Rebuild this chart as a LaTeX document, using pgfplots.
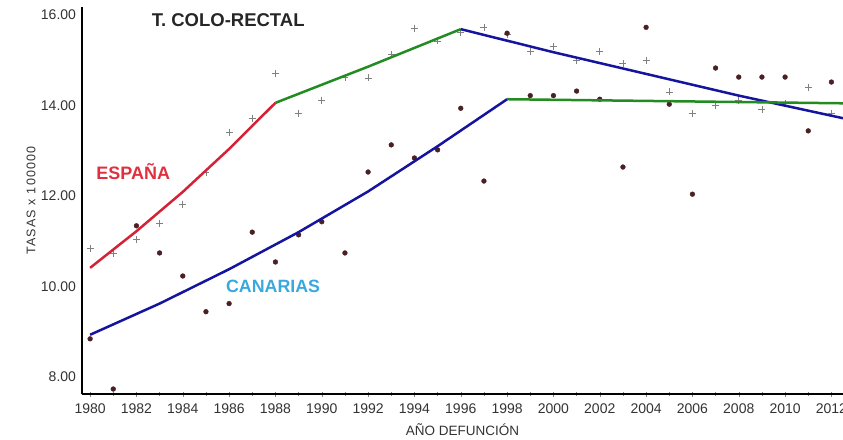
\documentclass[border=0pt]{standalone}
\usepackage{pgfplots}
\pgfplotsset{compat=1.18}
\usepackage{pgfplotstable}
\usepackage{fontspec}
\setmainfont{Liberation Sans}
\usetikzlibrary{calc}

\definecolor{espred}{HTML}{D42236}
\definecolor{espredtxt}{HTML}{E0303E}
\definecolor{fitgreen}{HTML}{228B22}
\definecolor{fitblue}{HTML}{14149E}
\definecolor{cantxt}{HTML}{3AA8DE}
\definecolor{dotcol}{HTML}{4A2024}
\definecolor{pluscol}{HTML}{808080}
\definecolor{ticktxt}{HTML}{333333}

% observed rates, Spain (+) and Canarias (dots)
\pgfplotstableread{
year espana canarias
1980 10.83 8.84
1981 10.72 7.73
1982 11.03 11.34
1983 11.40 10.74
1984 11.82 10.23
1985 12.53 9.44
1986 13.41 9.62
1987 13.72 11.20
1988 14.72 10.54
1989 13.83 11.14
1990 14.12 11.43
1991 14.63 10.74
1992 14.61 12.53
1993 15.14 13.13
1994 15.71 12.84
1995 15.43 13.02
1996 15.62 13.94
1997 15.73 12.33
1998 15.58 15.60
1999 15.20 14.22
2000 15.31 14.22
2001 15.00 14.32
2002 15.20 14.14
2003 14.94 12.64
2004 15.00 15.73
2005 14.30 14.03
2006 13.83 12.04
2007 14.01 14.83
2008 14.12 14.63
2009 13.92 14.63
2010 14.05 14.63
2011 14.41 13.44
2012 13.83 14.52
}\rates

\begin{document}
\begin{tikzpicture}
\begin{axis}[
  scale only axis, width=761pt, height=387pt,
  xmin=1979.65, xmax=2012.5, ymin=7.62, ymax=16.18,
  axis x line=bottom, axis y line=left,
  axis line style={-, line width=1.6pt, black},
  xtick={1980,1982,...,2012}, minor xtick={1981,1983,...,2011},
  ytick={8,10,...,16},
  ytick style={draw=none},
  xtick style={draw=gray, thin},
  major tick length=5pt, minor tick length=4pt, tick align=center,
  tick label style={font=\fontsize{14}{16}\selectfont, text=ticktxt,
    /pgf/number format/assume math mode=true},
  x tick label style={/pgf/number format/1000 sep={}, yshift=-4pt},
  y tick label style={/pgf/number format/.cd, fixed, fixed zerofill, precision=2},
  xlabel={AÑO DEFUNCIÓN},
  xlabel style={at={(axis description cs:0.5,0)}, anchor=center, yshift=-36pt,
    font=\fontsize{13.5}{15}\selectfont, text=ticktxt},
  ylabel={TASAS x 100000},
  ylabel style={at={(axis description cs:-0.067,0.5)}, anchor=center,
    font=\fontsize{12.5}{14}\selectfont\addfontfeature{LetterSpace=10}, text=ticktxt},
  clip mode=individual,
]
\addplot[only marks, mark=+, mark size=3.5pt, draw=pluscol, line width=0.8pt]
  table[x=year, y=espana] {\rates};
\addplot[only marks, mark=*, mark size=2.4pt, draw=dotcol, fill=dotcol]
  table[x=year, y=canarias] {\rates};

% joinpoint fits, Spain
\addplot[espred, line width=2.5pt] coordinates {
  (1980,10.41) (1982,11.22) (1984,12.09) (1986,13.04) (1988,14.06)};
\addplot[fitgreen, line width=2.5pt] coordinates {
  (1988,14.06) (1992,14.86) (1996,15.69)};
\addplot[fitblue, line width=2.5pt] coordinates {
  (1996,15.69) (2000,15.18) (2004,14.70) (2008,14.22) (2012.5,13.72)};
% joinpoint fits, Canarias
\addplot[fitblue, line width=2.5pt] coordinates {
  (1980,8.93) (1983,9.62) (1986,10.38) (1989,11.20) (1992,12.10) (1995,13.10) (1998,14.14)};
\addplot[fitgreen, line width=2.5pt] coordinates {
  (1998,14.14) (2012.5,14.05)};

\node[font=\bfseries\fontsize{18.5}{20}\selectfont, text=black!85] at (axis cs:1985.96,15.89) {T. COLO-RECTAL};
\node[font=\bfseries\fontsize{18}{20}\selectfont, text=espredtxt] at (axis cs:1981.86,12.55) {ESPAÑA};
\node[font=\bfseries\fontsize{17.8}{20}\selectfont, text=cantxt] at (axis cs:1987.9,10.01) {CANARIAS};
\end{axis}
\pgfresetboundingbox
\path ($(current axis.south west)+(-82pt,-45pt)$) rectangle ($(current axis.north east)+(0pt,7pt)$);
\end{tikzpicture}
\end{document}
